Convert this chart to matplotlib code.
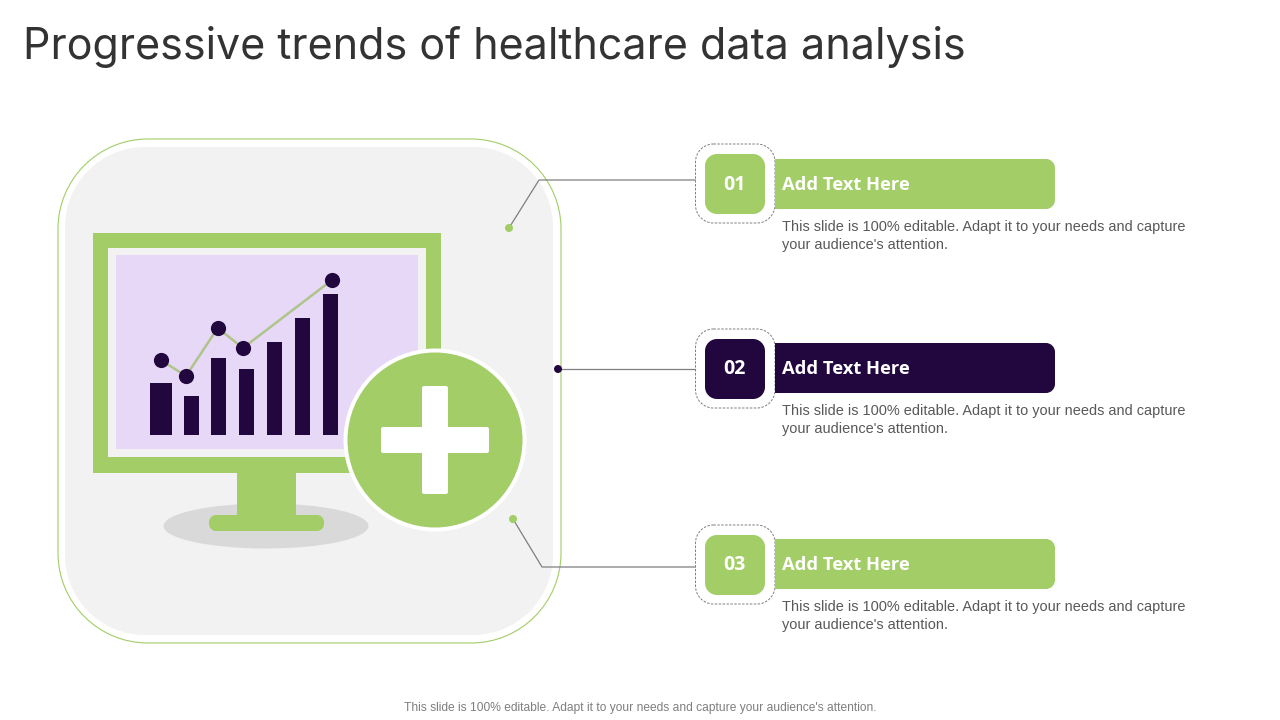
"""Progressive trends of healthcare data analysis: slide rebuilt on a pixel grid."""
import matplotlib
matplotlib.use("Agg")
import matplotlib.pyplot as plt
from matplotlib.patches import Circle, Ellipse, PathPatch, Rectangle
from matplotlib.path import Path

GREEN = "#a2cd67"
NAVY = "#22073f"
LILAC = "#e7d8f8"
GREY_BG = "#f2f2f2"

TITLE = "Progressive trends of healthcare data analysis"
FOOTER = "This slide is 100% editable. Adapt it to your needs and capture your audience's attention."
BODY = "This slide is 100% editable. Adapt it to your needs and capture\nyour audience's attention."

# mini chart on the monitor
bar_values = [52, 39, 77, 66, 93, 117, 141]
line_values = [75, 59, 107, 87, 155]

# callouts
numbers = ["01", "02", "03"]
headings = ["Add Text Here", "Add Text Here", "Add Text Here"]
row_colors = [GREEN, NAVY, GREEN]

fig = plt.figure(figsize=(12.8, 7.2), dpi=100)
ax = fig.add_axes([0, 0, 1, 1])
ax.set_xlim(0, 1280)
ax.set_ylim(720, 0)
ax.axis("off")


def rbox(x0, y0, x1, y1, r, left=True, **kw):
    # rounded box with true circular corners, left=False keeps the left side square
    k = 0.5523 * r
    rl = r if left else 0
    kl = k if left else 0
    verts = [(x0 + rl, y0), (x1 - r, y0),
             (x1 - r + k, y0), (x1, y0 + r - k), (x1, y0 + r),
             (x1, y1 - r),
             (x1, y1 - r + k), (x1 - r + k, y1), (x1 - r, y1),
             (x0 + rl, y1),
             (x0 + rl - kl, y1), (x0, y1 - rl + kl), (x0, y1 - rl),
             (x0, y0 + rl),
             (x0, y0 + rl - kl), (x0 + rl - kl, y0), (x0 + rl, y0),
             (x0 + rl, y0)]
    codes = [Path.MOVETO, Path.LINETO,
             Path.CURVE4, Path.CURVE4, Path.CURVE4,
             Path.LINETO,
             Path.CURVE4, Path.CURVE4, Path.CURVE4,
             Path.LINETO,
             Path.CURVE4, Path.CURVE4, Path.CURVE4,
             Path.LINETO,
             Path.CURVE4, Path.CURVE4, Path.CURVE4,
             Path.CLOSEPOLY]
    p = PathPatch(Path(verts, codes), **kw)
    ax.add_patch(p)
    return p


def rect(x0, y0, x1, y1, color, z=2):
    ax.add_patch(Rectangle((x0, y0), x1 - x0, y1 - y0, fc=color, ec="none", zorder=z))


ax.text(23, 59, TITLE, fontsize=31, family="Inter", color="#333333",
        va="baseline", ha="left")

# big rounded panel
rbox(58, 139, 561, 643, 90, fc="white", ec=GREEN, lw=0.8, zorder=1)
rbox(65, 147, 553, 635, 80, fc=GREY_BG, ec="none", zorder=1)

# monitor
ax.add_patch(Ellipse((266, 526), 205, 45, fc="#d9d9d9", ec="none", zorder=2))
rect(93, 233, 441, 473, GREEN)
rect(108, 248, 426, 457, GREY_BG, 3)
rect(116, 255, 418, 449, LILAC, 4)
rect(237, 473, 296, 516, GREEN)
rbox(209, 515, 324, 531, 7, fc=GREEN, ec="none", zorder=3)

# mini chart
base = 435
bar_x = [161, 191.5, 218.5, 246.5, 274.5, 302.5, 330.5]
bar_w = [22, 15, 15, 15, 15, 15, 15]
ax.bar(bar_x, [-v for v in bar_values], width=bar_w, bottom=base, color=NAVY, zorder=5)
line_x = [160.7, 186, 217.7, 243, 332]
line_y = [base - v for v in line_values]
ax.plot(line_x, line_y, color="#aec48a", lw=1.8, zorder=6)
ax.scatter(line_x, line_y, s=120, color=NAVY, linewidths=0, zorder=7)

# plus badge
ax.add_patch(Circle((435, 440), 91.5, fc="white", ec="none", zorder=8))
ax.add_patch(Circle((435, 440), 87.5, fc=GREEN, ec="none", zorder=9))
rbox(381, 427, 489, 453, 2, fc="white", ec="none", zorder=10)
rbox(422, 386, 448, 494, 2, fc="white", ec="none", zorder=10)

# connector lines
conn_x = [[509, 539, 695], [558, 695], [513, 542, 695]]
conn_y = [[228, 180, 180], [369, 369], [519, 567, 567]]
for xs, ys, c in zip(conn_x, conn_y, row_colors):
    ax.plot(xs, ys, color="#7f7f7f", lw=0.9, zorder=11)
    ax.add_patch(Circle((xs[0], ys[0]), 4, fc=c, ec="none", zorder=12))

# callout rows
row_top = [144, 329, 525]
bar_top = [159, 343, 539]
for top, bt, num, head, c in zip(row_top, bar_top, numbers, headings, row_colors):
    rbox(695.5, top, 775, top + 79, 18, fc="white", ec="#7f7f7f", lw=0.7,
         ls=(0, (2.5, 1.5)), zorder=3)
    rbox(775, bt, 1055, bt + 50, 9, left=False, fc=c, ec="none", zorder=4)
    rbox(705, top + 10, 765, top + 70, 12, fc=c, ec="none", zorder=5)
    ax.text(734.5, bt + 26.5, num, color="white", fontsize=14, fontweight="bold",
            family="Open Sans", ha="center", va="center", zorder=6)
    ax.text(782, bt + 26, head, color="white", fontsize=13.2, fontweight="bold",
            family="Open Sans", ha="left", va="center", zorder=6)
    ax.text(782, bt + 77, BODY, color="#595959", fontsize=10.45, family="Liberation Sans",
            ha="left", va="center", linespacing=1.3, zorder=6)

ax.text(640, 708, FOOTER, color="#7f7f7f", fontsize=8.66, family="Liberation Sans",
        ha="center", va="center")

fig.savefig("out.png", dpi=100)
